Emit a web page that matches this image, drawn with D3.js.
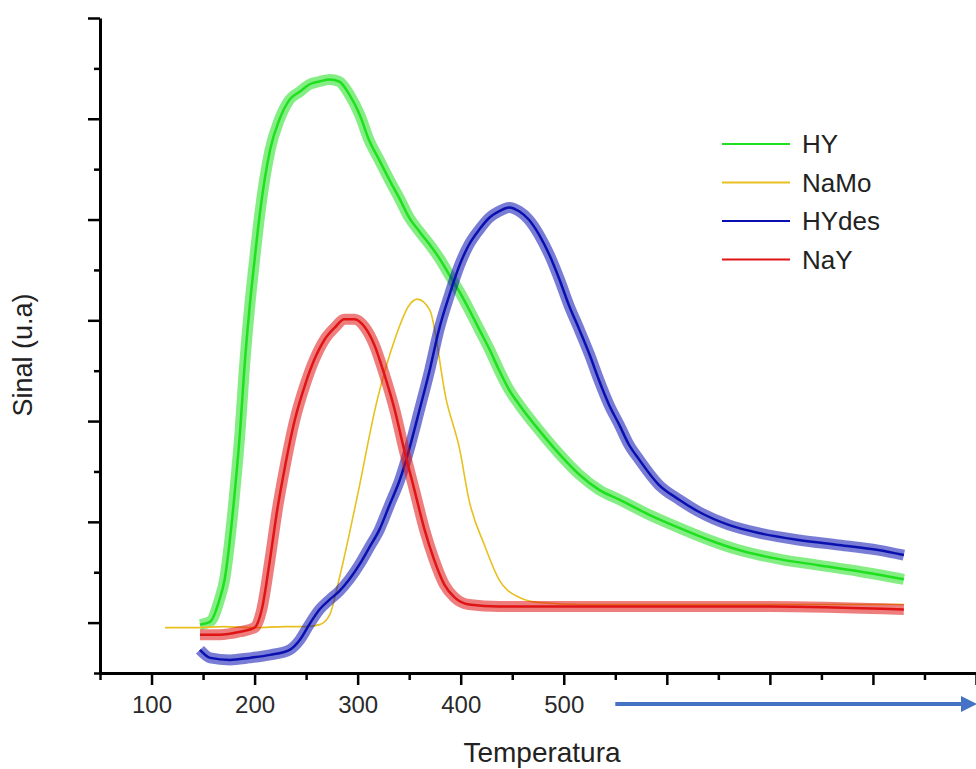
<!DOCTYPE html>
<html>
<head>
<meta charset="utf-8">
<script src="https://cdn.jsdelivr.net/npm/d3@7"></script>
<style>
  body { margin: 0; background: #fff; }
  svg { display: block; font-family: "Liberation Sans", Arial, sans-serif; }
  .axis path, .axis line { stroke: #000; }
  .axis text { fill: #2a2a2a; font-size: 24px; }
</style>
</head>
<body>
<svg id="chart"></svg>
<script>
// TPR curves, signal in arbitrary units (one major y tick = 1)
const seriesNames = ['HY', 'NaMo', 'HYdes', 'NaY'];
const seriesColors = ['#1fe01f', '#e8c020', '#0a10b0', '#e01414'];

const hyTemp = [147,157,166,171,176,181,186,190,195,200,205,215,224,234,244,253,263,273,282,292,302,311,321,331,341,350,360,370,379,389,399,408,418,428,437,447,457,476,496,515,534,554,583,612,641,670,709,747,786,830];
const hySignal = [-0.02,0.01,0.23,0.43,0.82,1.32,1.91,2.51,3.11,3.6,4.05,4.69,4.99,5.19,5.27,5.34,5.37,5.39,5.37,5.24,5.04,4.79,4.59,4.39,4.2,4.02,3.88,3.75,3.62,3.45,3.28,3.11,2.91,2.71,2.51,2.31,2.16,1.91,1.67,1.47,1.32,1.22,1.07,0.94,0.82,0.72,0.63,0.57,0.51,0.43];

const namoTemp = [113,140,170,200,230,250,263,273,282,299,319,336,350,358,370,386,399,408,423,437,457,476,520,600,700,830];
const namoSignal = [-0.05,-0.05,-0.04,-0.05,-0.04,-0.04,-0.02,0.08,0.43,1.22,2.21,2.81,3.15,3.21,3.1,2.21,1.72,1.22,0.77,0.43,0.25,0.2,0.18,0.18,0.18,0.18];

const hydesTemp = [147,157,176,195,215,234,244,253,263,273,282,292,302,311,321,331,341,350,360,370,379,389,399,408,418,428,437,447,457,466,476,486,496,505,515,525,534,544,554,563,573,592,612,631,660,689,728,767,805,830];
const hydesSignal = [-0.27,-0.35,-0.37,-0.35,-0.32,-0.27,-0.17,-0.02,0.13,0.23,0.31,0.43,0.58,0.74,0.92,1.17,1.42,1.72,2.11,2.51,2.91,3.25,3.55,3.75,3.9,4.02,4.08,4.12,4.08,4.0,3.85,3.65,3.4,3.15,2.91,2.66,2.41,2.16,1.96,1.77,1.62,1.37,1.22,1.1,0.97,0.89,0.82,0.77,0.72,0.67];

const naTemp = [147,166,186,200,207,215,222,229,239,249,258,268,278,287,297,307,316,326,336,345,355,365,374,384,394,408,437,500,600,700,830];
const naSignal = [-0.12,-0.12,-0.09,-0.05,0.13,0.63,1.12,1.52,2.01,2.36,2.61,2.81,2.93,3.01,3.01,2.93,2.76,2.46,2.11,1.72,1.32,0.92,0.63,0.38,0.25,0.18,0.16,0.16,0.16,0.16,0.13];

const xMajorTicks = [100,200,300,400,500,600,700,800,900];
const xMinorTicks = [50,150,250,350,450,550,650,750,850];
const xLabelledTicks = [100,200,300,400,500];
const yMajorTicks = [0,1,2,3,4,5,6];
const yMinorTicks = [-0.5,0.5,1.5,2.5,3.5,4.5,5.5];

class TprChart {
  constructor(config) {
    this.config = {
      parentElement: config.parentElement,
      containerWidth: config.containerWidth ?? 976,
      containerHeight: config.containerHeight ?? 769,
      margin: config.margin ?? { top: 18, right: 0, bottom: 96, left: 100 }
    };
    this.initVis();
  }

  initVis() {
    const vis = this;
    const m = vis.config.margin;
    vis.width = vis.config.containerWidth - m.left - m.right;
    vis.height = vis.config.containerHeight - m.top - m.bottom;

    vis.xScale = d3.scaleLinear().domain([50, 900]).range([0, vis.width]);
    vis.yScale = d3.scaleLinear().domain([-0.5, 6]).range([vis.height, 0]);

    vis.svg = d3.select(vis.config.parentElement)
      .attr('width', vis.config.containerWidth)
      .attr('height', vis.config.containerHeight);

    vis.chart = vis.svg.append('g')
      .attr('transform', `translate(${m.left},${m.top})`);
  }

  renderVis() {
    const vis = this;

    // minor ticks first, then the major axis carries the domain line
    vis.chart.append('g')
      .attr('class', 'axis')
      .attr('transform', `translate(0,${vis.height})`)
      .call(d3.axisBottom(vis.xScale).tickValues(xMinorTicks).tickSize(7).tickFormat(''))
      .call(g => g.select('.domain').remove())
      .selectAll('line').attr('stroke-width', 2.5);

    vis.chart.append('g')
      .attr('class', 'axis')
      .attr('transform', `translate(0,${vis.height})`)
      .call(d3.axisBottom(vis.xScale).tickValues(xMajorTicks).tickSize(12).tickSizeOuter(0).tickPadding(11)
        .tickFormat(d => xLabelledTicks.includes(d) ? d : ''))
      .call(g => g.select('.domain').attr('stroke-width', 3))
      .selectAll('line').attr('stroke-width', 2.5);

    vis.chart.append('g')
      .attr('class', 'axis')
      .call(d3.axisLeft(vis.yScale).tickValues(yMinorTicks).tickSize(6).tickFormat(''))
      .call(g => g.select('.domain').remove())
      .selectAll('line').attr('stroke-width', 2.5);

    vis.chart.append('g')
      .attr('class', 'axis')
      .call(d3.axisLeft(vis.yScale).tickValues(yMajorTicks).tickSize(12).tickSizeOuter(0).tickFormat(''))
      .call(g => g.select('.domain').attr('stroke-width', 3))
      .selectAll('line').attr('stroke-width', 2.5);

    const series = [
      { name: 'HY', temp: hyTemp, signal: hySignal, noisy: true },
      { name: 'NaMo', temp: namoTemp, signal: namoSignal, noisy: false },
      { name: 'HYdes', temp: hydesTemp, signal: hydesSignal, noisy: true },
      { name: 'NaY', temp: naTemp, signal: naSignal, noisy: true }
    ].map(s => ({ ...s, color: seriesColors[seriesNames.indexOf(s.name)],
      points: s.temp.map((t, i) => [t, s.signal[i]]) }));

    const line = d3.line()
      .x(d => vis.xScale(d[0]))
      .y(d => vis.yScale(d[1]))
      .curve(d3.curveMonotoneX);

    series.forEach(s => {
      if (s.noisy) {
        vis.chart.append('path')
          .attr('d', line(s.points))
          .attr('fill', 'none')
          .attr('stroke', s.color)
          .attr('stroke-width', 11)
          .attr('stroke-opacity', 0.55)
          .attr('stroke-linejoin', 'round');
      }
      vis.chart.append('path')
        .attr('d', line(s.points))
        .attr('fill', 'none')
        .attr('stroke', s.color)
        .attr('stroke-width', s.noisy ? 2.5 : 1.6)
        .attr('stroke-linejoin', 'round');
    });

    // legend
    const legend = vis.svg.append('g').attr('transform', 'translate(722,144)');
    seriesNames.forEach((name, i) => {
      const row = legend.append('g').attr('transform', `translate(0,${i * 38.5})`);
      row.append('line')
        .attr('x1', 0).attr('x2', 68)
        .attr('stroke', seriesColors[i])
        .attr('stroke-width', 2);
      row.append('text')
        .attr('x', 80).attr('y', 0).attr('dy', '0.36em')
        .style('font-size', '26px').attr('fill', '#222')
        .text(name);
    });

    // arrow drawn past the last labelled tick
    vis.svg.append('defs').append('marker')
      .attr('id', 'arrowHead')
      .attr('viewBox', '0 0 10 10')
      .attr('refX', 5).attr('refY', 5)
      .attr('markerWidth', 4).attr('markerHeight', 4)
      .attr('orient', 'auto')
      .append('path').attr('d', 'M0,0L10,5L0,10z').attr('fill', '#4472c4');

    vis.svg.append('line')
      .attr('x1', vis.config.margin.left + vis.xScale(550))
      .attr('x2', vis.config.margin.left + vis.xScale(893))
      .attr('y1', 704).attr('y2', 704)
      .attr('stroke', '#4472c4')
      .attr('stroke-width', 4)
      .attr('marker-end', 'url(#arrowHead)');

    // axis titles
    vis.svg.append('text')
      .attr('x', 542).attr('y', 762)
      .attr('text-anchor', 'middle')
      .style('font-size', '28px').attr('fill', '#222')
      .text('Temperatura');

    vis.svg.append('text')
      .attr('transform', 'translate(32,355) rotate(-90)')
      .attr('text-anchor', 'middle')
      .style('font-size', '27px').attr('fill', '#222')
      .text('Sinal (u.a)');
  }
}

const chart = new TprChart({ parentElement: '#chart' });
chart.renderVis();
</script>
</body>
</html>
